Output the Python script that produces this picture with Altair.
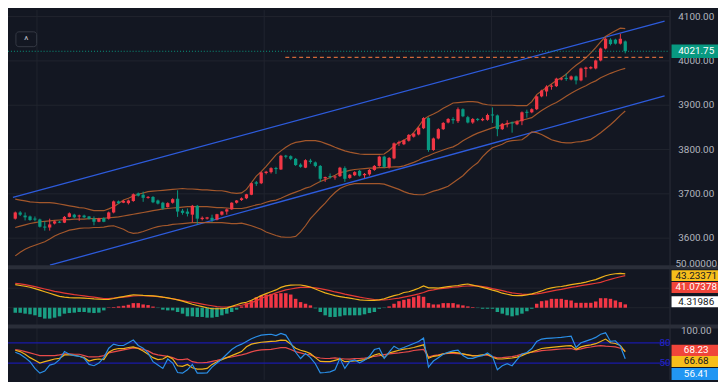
import altair as alt
import pandas as pd

# ---------------- data ----------------
opens = [3644, 3658, 3651, 3649, 3644, 3642, 3626, 3624, 3633, 3637,
         3635, 3648, 3653, 3649, 3651, 3649, 3644, 3637, 3645, 3644,
         3658, 3683, 3680, 3679, 3684, 3701, 3698, 3691, 3693, 3685,
         3680, 3670, 3680, 3689, 3662, 3660, 3653, 3673, 3643, 3644,
         3646, 3642, 3653, 3660, 3665, 3680, 3686, 3690, 3698, 3726,
         3724, 3747, 3749, 3758, 3755, 3786, 3785, 3779, 3766, 3759,
         3775, 3771, 3763, 3735, 3740, 3737, 3740, 3758, 3736, 3742,
         3752, 3742, 3744, 3754, 3763, 3784, 3760, 3780, 3814, 3812,
         3820, 3829, 3834, 3848, 3871, 3799, 3825, 3846, 3861, 3869,
         3864, 3891, 3873, 3861, 3869, 3866, 3867, 3879, 3877, 3846,
         3857, 3861, 3857, 3864, 3885, 3884, 3891, 3920, 3931, 3942,
         3943, 3958, 3961, 3958, 3965, 3956, 3982, 3983, 3983, 4001,
         4028, 4048, 4048, 4039, 4044]
highs = [3660, 3661, 3658, 3651, 3649, 3644, 3638, 3644, 3640, 3639,
         3650, 3658, 3655, 3653, 3653, 3650, 3649, 3646, 3647, 3660,
         3685, 3685, 3686, 3687, 3701, 3703, 3705, 3695, 3695, 3687,
         3682, 3681, 3690, 3708, 3666, 3667, 3675, 3675, 3649, 3648,
         3653, 3655, 3661, 3667, 3681, 3686, 3692, 3700, 3725, 3729,
         3750, 3752, 3760, 3761, 3788, 3788, 3787, 3781, 3769, 3778,
         3779, 3773, 3765, 3739, 3746, 3741, 3761, 3762, 3745, 3751,
         3754, 3747, 3756, 3765, 3786, 3786, 3783, 3816, 3820, 3823,
         3835, 3838, 3851, 3873, 3873, 3827, 3848, 3862, 3871, 3873,
         3895, 3893, 3876, 3871, 3871, 3872, 3881, 3895, 3879, 3860,
         3866, 3863, 3866, 3886, 3890, 3893, 3922, 3935, 3945, 3947,
         3962, 3963, 3972, 3967, 3967, 3985, 3987, 3988, 4003, 4030,
         4052, 4051, 4050, 4061, 4046]
lows = [3642, 3650, 3640, 3639, 3638, 3624, 3617, 3617, 3631, 3634,
        3634, 3647, 3645, 3639, 3645, 3642, 3629, 3636, 3636, 3642,
        3656, 3677, 3679, 3676, 3682, 3694, 3682, 3689, 3679, 3676,
        3664, 3669, 3678, 3648, 3653, 3649, 3636, 3631, 3640, 3642,
        3636, 3640, 3651, 3653, 3664, 3678, 3684, 3688, 3697, 3718,
        3722, 3744, 3746, 3745, 3754, 3780, 3776, 3763, 3759, 3758,
        3768, 3760, 3727, 3727, 3734, 3732, 3738, 3727, 3734, 3740,
        3739, 3736, 3741, 3752, 3761, 3758, 3757, 3778, 3808, 3810,
        3818, 3827, 3832, 3846, 3795, 3797, 3823, 3844, 3859, 3858,
        3860, 3873, 3859, 3858, 3864, 3864, 3865, 3860, 3830, 3844,
        3850, 3838, 3855, 3855, 3872, 3882, 3889, 3918, 3920, 3935,
        3941, 3956, 3955, 3956, 3947, 3954, 3963, 3981, 3981, 3999,
        4026, 4035, 4037, 4037, 4017]
closes = [3658, 3653, 3647, 3641, 3642, 3626, 3624, 3631, 3638, 3635,
          3648, 3656, 3647, 3651, 3647, 3644, 3637, 3644, 3637, 3658,
          3683, 3679, 3684, 3685, 3699, 3696, 3691, 3693, 3681, 3678,
          3667, 3679, 3688, 3660, 3657, 3655, 3673, 3644, 3646, 3647,
          3641, 3654, 3660, 3665, 3680, 3685, 3690, 3699, 3724, 3723,
          3748, 3750, 3758, 3756, 3786, 3784, 3779, 3765, 3761, 3776,
          3772, 3763, 3734, 3738, 3738, 3739, 3759, 3734, 3743, 3749,
          3741, 3745, 3754, 3763, 3784, 3761, 3781, 3814, 3817, 3821,
          3833, 3836, 3849, 3871, 3799, 3825, 3846, 3860, 3869, 3866,
          3891, 3875, 3861, 3869, 3867, 3869, 3878, 3877, 3846, 3858,
          3860, 3859, 3863, 3884, 3883, 3891, 3920, 3933, 3942, 3944,
          3960, 3961, 3960, 3965, 3956, 3983, 3985, 3986, 4001, 4028,
          4050, 4038, 4039, 4050, 4021.75]

bb_upper = [3688, 3686, 3684, 3682, 3681, 3680, 3680, 3680, 3679, 3677,
            3675, 3673, 3671, 3669, 3668, 3665, 3662, 3662, 3662, 3666,
            3671, 3678, 3686, 3690, 3695, 3699, 3702, 3705, 3706, 3707,
            3708, 3709, 3710, 3711, 3712, 3711, 3711, 3710, 3709, 3709,
            3708, 3707, 3707, 3705, 3702, 3701, 3702, 3710, 3725, 3740,
            3750, 3762, 3775, 3788, 3797, 3805, 3812, 3816, 3818, 3820,
            3820, 3820, 3818, 3814, 3810, 3805, 3801, 3797, 3794, 3792,
            3790, 3789, 3789, 3789, 3789, 3790, 3798, 3808, 3816, 3821,
            3828, 3838, 3852, 3868, 3875, 3880, 3886, 3893, 3899, 3905,
            3906, 3907, 3908, 3908, 3907, 3903, 3901, 3900, 3900, 3900,
            3900, 3900, 3899, 3899, 3899, 3908, 3924, 3932, 3940, 3948,
            3956, 3962, 3970, 3981, 3990, 3998, 4007, 4018, 4030, 4043,
            4055, 4062, 4068, 4074, 4073]
bb_mid = [3624, 3627, 3630, 3633, 3635, 3637, 3638, 3639, 3640, 3641,
          3642, 3642, 3643, 3643, 3643, 3644, 3644, 3644, 3645, 3646,
          3647, 3648, 3650, 3652, 3654, 3656, 3658, 3660, 3662, 3664,
          3666, 3667, 3668, 3669, 3670, 3671, 3671, 3671, 3671, 3671,
          3670, 3669, 3669, 3668, 3667, 3667, 3667, 3669, 3672, 3675,
          3677, 3681, 3684, 3686, 3690, 3695, 3700, 3704, 3708, 3713,
          3716, 3722, 3728, 3732, 3737, 3742, 3748, 3750, 3753, 3755,
          3756, 3757, 3758, 3758, 3759, 3759, 3760, 3761, 3761, 3763,
          3767, 3771, 3776, 3782, 3786, 3791, 3795, 3799, 3803, 3806,
          3812, 3820, 3826, 3832, 3837, 3841, 3845, 3849, 3852, 3855,
          3858, 3861, 3863, 3866, 3869, 3872, 3880, 3888, 3895, 3901,
          3906, 3913, 3920, 3927, 3933, 3939, 3944, 3950, 3955, 3962,
          3967, 3972, 3976, 3980, 3983]
bb_lower = [3560, 3568, 3575, 3580, 3584, 3588, 3592, 3598, 3605, 3610,
            3614, 3618, 3620, 3622, 3623, 3623, 3624, 3624, 3625, 3627,
            3628, 3624, 3620, 3614, 3611, 3612, 3615, 3619, 3623, 3626,
            3628, 3629, 3631, 3632, 3633, 3634, 3635, 3635, 3635, 3635,
            3635, 3635, 3635, 3634, 3633, 3633, 3634, 3631, 3628, 3624,
            3620, 3614, 3610, 3606, 3603, 3602, 3602, 3604, 3614, 3628,
            3644, 3656, 3668, 3679, 3692, 3703, 3712, 3717, 3721, 3723,
            3723, 3723, 3723, 3723, 3723, 3722, 3718, 3714, 3710, 3705,
            3701, 3699, 3698, 3698, 3702, 3706, 3709, 3713, 3717, 3725,
            3733, 3741, 3752, 3762, 3770, 3784, 3795, 3804, 3808, 3812,
            3818, 3820, 3821, 3822, 3830, 3840, 3838, 3834, 3828, 3822,
            3819, 3816, 3815, 3815, 3817, 3818, 3820, 3823, 3830, 3838,
            3847, 3856, 3866, 3877, 3887]

macd_dif = [29.5, 28.5, 27.5, 26.2, 24.5, 22.5, 20.5, 18.5, 16.5, 14.5,
            13.5, 13, 12.7, 12.5, 12.2, 11.8, 11.3, 11, 10.5, 10.8,
            11.8, 13.2, 14.3, 15.5, 16.5, 16.3, 15.8, 15.6, 15.2, 14.5,
            13.5, 12.7, 11.5, 10, 8.4, 6.5, 4.5, 2.9, 1.5, 0,
            -1.3, -1.3, -1.3, -0.5, 1.7, 3.8, 5.9, 7, 9.5, 12.5,
            15.5, 18, 20.5, 22.8, 26, 28, 29, 29.1, 29.1, 28,
            26.5, 24, 21.5, 19, 17.2, 15.5, 14.3, 13.2, 12.3, 11.2,
            10.1, 9.6, 9.3, 9.5, 10.1, 11.5, 13.5, 15.5, 16.9, 19.5,
            20.5, 22.5, 25, 28, 25.5, 25.3, 25, 26, 27, 27.8,
            28.5, 29.5, 30.4, 29, 27.5, 26, 24.5, 22.5, 21, 18.6,
            17.2, 15.8, 15.6, 15.6, 16.5, 17.8, 19.5, 21.5, 24, 25.5,
            26.5, 27.2, 28.2, 29.5, 30.5, 31.5, 32.8, 34.5, 36, 38.5,
            41, 42.5, 43.5, 43.9, 43.23371]
macd_dea = [31.2, 30.5, 29.5, 28.2, 27, 25.5, 24, 22.5, 21, 19.9,
            18.8, 17.8, 16.8, 16, 15.2, 14.3, 13.5, 12.7, 11.8, 11.8,
            12.5, 13, 13.5, 14.3, 15, 15.6, 15.6, 15.2, 14.8, 14.3,
            13.5, 12.5, 11.4, 10.3, 9.2, 8, 7, 5.8, 4.6, 3.5,
            2.5, 1.5, 0.9, 0.9, 1.3, 2.2, 3.2, 4.5, 6.5, 8.8,
            12, 14.5, 16.5, 19, 21, 22.8, 24, 25.2, 26, 26.2,
            26, 25.5, 24.5, 23.2, 21.8, 20.2, 19, 17.5, 16.2, 14.8,
            13.5, 12.5, 11.5, 10.5, 10.1, 10.1, 10.5, 11.5, 12.3, 13.5,
            14.8, 16.2, 17.7, 19.5, 21.9, 22.8, 24, 24.8, 25.5, 26.2,
            26.8, 27.5, 27.8, 28.2, 28, 27, 26, 24.5, 23.2, 21.8,
            20.3, 19, 18.2, 17.5, 17, 17.2, 17.8, 18.8, 20, 21.3,
            22.5, 23.5, 24.8, 26, 27, 28.2, 29.2, 30.2, 31.3, 32.5,
            34.5, 36.3, 38, 39.6, 41.07378]
macd_hist = [-6.3, -6.5, -7.6, -8.4, -9.7, -11.8, -13.9, -13.9, -12.7, -11,
             -7.6, -6.8, -6.3, -5.5, -5.5, -6.3, -6.8, -6.3, -3.4, 0.4,
             0.8, 1.7, 2.5, 3.8, 5.9, 5.9, 4.2, 3.4, 1.5, -0.4,
             -2.5, -3.4, -3.4, -5.5, -7.6, -11, -11, -11.8, -11.8, -12.7,
             -12.7, -11.8, -9.7, -7.6, -5.5, -2.5, 1.7, 5.9, 9.3, 13.5,
             15.6, 16.9, 17.7, 17.7, 18.6, 18.6, 16.9, 11.4, 7.2, 5.1,
             3, -0.8, -5.5, -9.7, -11.8, -11.8, -11, -9.7, -9.7, -9.7,
             -9.7, -8.4, -6.8, -5.5, -1.3, -0.4, 1.7, 5.1, 8.4, 10.1,
             11.4, 13.5, 15.6, 14, 6, 4.2, 4.2, 5.9, 5.9, 5.9,
             4.2, 3, 1.7, 0.8, -0.4, -1.3, -1.3, -1.3, -5.5, -7.6,
             -9.7, -11, -9.7, -7.6, -4.5, -1.3, 5.1, 8.4, 9.3, 11.4,
             11.4, 11.4, 10.1, 9.3, 6.3, 6.3, 6.3, 6.3, 8, 12.2,
             12.2, 11.4, 9.3, 7.2, 4.31986]

osc_blue = [66, 63, 58, 52, 42, 35, 38, 47, 49, 55,
            67, 63, 61, 60, 57, 48, 46, 50, 58, 72,
            78, 76, 76, 80, 84, 76, 72, 65, 52, 47,
            42, 56, 50, 36, 35, 40, 48, 35, 35, 35.5,
            44, 50, 56, 63, 70, 75, 78, 82, 86, 89,
            91.4, 92, 92.7, 90.6, 94, 91.4, 80, 66, 56.7, 64,
            58, 49, 35.5, 36, 37, 40, 57, 42, 52.5, 54.6,
            50.4, 54, 60, 70, 72, 57, 66, 75, 70.5, 73,
            76, 79, 82, 87, 44, 53, 58, 63, 66, 68,
            69, 61, 57, 57, 59.5, 61, 65, 60, 40, 46,
            49, 46, 55, 63.5, 65.5, 71.5, 82, 85.5, 86.5, 87,
            87.5, 88, 89, 89.7, 73, 80, 82.5, 85, 88, 92.7,
            94.8, 82, 83, 75, 56.41]
osc_yellow = [69, 67, 63, 58, 54, 50, 52, 54, 56, 57,
              62, 62, 61.5, 60, 58, 53, 55, 56, 55, 66,
              70, 71.5, 71.5, 73, 74, 71.5, 68, 63, 58, 55,
              56, 60, 56, 46, 45, 48, 43, 41, 41, 42,
              48, 52, 55, 58, 61, 64, 67, 74, 78, 79.5,
              80.8, 81.5, 82, 82.5, 84, 83.5, 78, 72, 69, 67,
              64, 58, 52.5, 52, 52, 54, 56, 52, 52.5, 53,
              54, 55, 58, 62, 64, 58, 65, 67, 69, 70.5,
              71.5, 73, 75, 77, 57, 60, 61, 63.5, 65, 66,
              65, 63.5, 62, 60.5, 61, 62, 63, 58.5, 56, 56,
              56.7, 57.5, 58.8, 61, 64.3, 66.5, 69, 71.5, 72.5, 73.3,
              74, 74.8, 75.5, 75.8, 70.3, 74, 75.8, 77, 78.7, 82,
              85.5, 80, 79, 76, 66.68]
osc_red = [70, 69, 67, 65, 63, 61, 61, 61, 61, 62,
           63.5, 63.5, 63, 63, 61, 59, 59, 59.5, 61, 65,
           66.5, 68, 69.4, 71, 72.5, 72, 70, 68, 64, 62,
           61, 60, 58, 55, 55, 56, 52, 50.5, 50.4, 51,
           52.5, 54, 56, 58, 59, 60.5, 62, 64, 66.5, 68.5,
           69.5, 70, 70.3, 71.5, 72.8, 72.8, 70, 67, 65, 63,
           62, 59, 57.5, 56.7, 57, 57.6, 56.7, 56, 55.9, 56.5,
           56.7, 57.2, 58, 60, 61, 62.5, 63.5, 64.3, 65, 66,
           67, 68.6, 69.5, 70.3, 59, 61, 62, 63.5, 64.3, 64.3,
           64, 63.1, 62, 61, 61, 61.5, 61.8, 59.5, 57.6, 58,
           58.8, 59.5, 61, 63.1, 64.5, 66, 67, 68.3, 69, 69.6,
           70.3, 70.8, 71.2, 71.5, 69.4, 71, 72.8, 73.8, 75, 75.8,
           75, 74.5, 74, 72, 68.23]

price_ticks = [3600, 3700, 3800, 3900, 4000, 4100]
macd_grid = [0, 25]
macd_top_label = [50]
osc_levels = [80, 50]
time_grid = [4.42, 50.6, 96.8]
channel_up_x = [-0.47, 132.0]
channel_up = [3692, 4090]
channel_lo_x = [7.05, 132.0]
channel_lo = [3539, 3921]
last_price = 4021.75
level_line_price = 4008
level_line_x = [54.9, 132.0]

N = len(closes)
for arr in (opens, highs, lows, bb_upper, bb_mid, bb_lower, macd_dif, macd_dea,
            macd_hist, osc_blue, osc_yellow, osc_red):
    assert len(arr) == N, len(arr)
idx = list(range(N))

# ---------------- style ----------------
BG = "#131722"
GRID = "#20242f"
SEP = "#2a2e39"
UP = "#f23645"
DOWN = "#089981"
BBC = "#b35e2c"
CHC = "#2d5bdc"
TXT = "#b2b5be"
FONT = "Roboto"

W, H = 718, 374
PW = 669
XS = alt.Scale(domain=[-0.47, 132.0], range=[0, PW], nice=False, zero=False)
YM = alt.Scale(domain=[3538.96, 4114.7], range=[258, 0], nice=False, zero=False)
YD = alt.Scale(domain=[-21.52, 49.37], range=[318, 262], nice=False, zero=False)
YS = alt.Scale(domain=[24.98, 101.2], range=[374, 322], nice=False, zero=False)


def X(f="i"):
    return alt.X(f"{f}:Q", scale=XS, axis=None)


def Y(f, sc):
    return alt.Y(f"{f}:Q", scale=sc, axis=None)


one = pd.DataFrame({"a": [1]})
layers = []

# grid
layers.append(alt.Chart(pd.DataFrame({"t": time_grid})).mark_rule(color=GRID, strokeWidth=1)
              .encode(x=X("t"), y=alt.value(0), y2=alt.value(H)))
layers.append(alt.Chart(pd.DataFrame({"p": price_ticks})).mark_rule(color=GRID, strokeWidth=1)
              .encode(y=Y("p", YM), x=alt.value(0), x2=alt.value(PW)))
layers.append(alt.Chart(pd.DataFrame({"p": macd_grid})).mark_rule(color=GRID, strokeWidth=1)
              .encode(y=Y("p", YD), x=alt.value(0), x2=alt.value(PW)))

# regression channel
layers.append(alt.Chart(pd.DataFrame({"i": channel_up_x, "p": channel_up})).mark_line(color=CHC, strokeWidth=1.3)
              .encode(x=X(), y=Y("p", YM)))
layers.append(alt.Chart(pd.DataFrame({"i": channel_lo_x, "p": channel_lo})).mark_line(color=CHC, strokeWidth=1.3)
              .encode(x=X(), y=Y("p", YM)))

# Bollinger bands
bb = pd.DataFrame({"i": idx, "u": bb_upper, "m": bb_mid, "l": bb_lower})
for f in ("u", "m", "l"):
    layers.append(alt.Chart(bb).mark_line(color=BBC, strokeWidth=1.2, opacity=0.9)
                  .encode(x=X(), y=Y(f, YM)))

# price lines
layers.append(alt.Chart(pd.DataFrame({"p": [last_price]})).mark_rule(color=DOWN, strokeWidth=1, strokeDash=[1, 2])
              .encode(y=Y("p", YM), x=alt.value(0), x2=alt.value(PW)))
layers.append(alt.Chart(pd.DataFrame({"s": [level_line_x[0]], "e": [level_line_x[1]], "p": [level_line_price]}))
              .mark_rule(color="#d0683a", strokeWidth=1.3, strokeDash=[4, 3])
              .encode(x=X("s"), x2=alt.X2("e"), y=Y("p", YM)))

# candles
cdf = pd.DataFrame({"i": idx, "o": opens, "h": highs, "l": lows, "c": closes})
cdf["col"] = [UP if c >= o else DOWN for o, c in zip(opens, closes)]
tops, bots = [], []
for o, c in zip(opens, closes):
    t, b = max(o, c), min(o, c)
    if t - b < 2.4:
        mid = (t + b) / 2
        t, b = mid + 1.2, mid - 1.2
    tops.append(t)
    bots.append(b)
cdf["t"] = tops
cdf["b"] = bots
layers.append(alt.Chart(cdf).mark_rule(strokeWidth=1)
              .encode(x=X(), y=Y("l", YM), y2=alt.Y2("h"), color=alt.Color("col:N", scale=None)))
layers.append(alt.Chart(cdf).mark_bar(size=3.3)
              .encode(x=X(), y=Y("b", YM), y2=alt.Y2("t"), color=alt.Color("col:N", scale=None)))

# MACD
mdf = pd.DataFrame({"i": idx, "d": macd_dif, "e": macd_dea, "h": macd_hist})
mdf["z"] = 0.0
mdf["col"] = [UP if v >= 0 else "#1a9f84" for v in macd_hist]
layers.append(alt.Chart(mdf).mark_bar(size=3.5)
              .encode(x=X(), y=Y("z", YD), y2=alt.Y2("h"), color=alt.Color("col:N", scale=None)))
layers.append(alt.Chart(mdf).mark_line(color="#e53935", strokeWidth=1.2).encode(x=X(), y=Y("e", YD)))
layers.append(alt.Chart(mdf).mark_line(color="#f0b21a", strokeWidth=1.2).encode(x=X(), y=Y("d", YD)))

# oscillator
layers.append(alt.Chart(pd.DataFrame({"p": osc_levels})).mark_rule(color="#1a1aa8", strokeWidth=1.2)
              .encode(y=Y("p", YS), x=alt.value(0), x2=alt.value(PW)))
odf = pd.DataFrame({"i": idx, "b": osc_blue, "y": osc_yellow, "r": osc_red})
layers.append(alt.Chart(odf).mark_line(color="#e84a4a", strokeWidth=1.2).encode(x=X(), y=Y("r", YS)))
layers.append(alt.Chart(odf).mark_line(color="#f0b21a", strokeWidth=1.2).encode(x=X(), y=Y("y", YS)))
layers.append(alt.Chart(odf).mark_line(color="#2a8fe8", strokeWidth=1.2).encode(x=X(), y=Y("b", YS)))

# separators and price-scale border
for a, b in ((258, 262), (318, 322)):
    layers.append(alt.Chart(one).mark_rect(color=SEP)
                  .encode(x=alt.value(0), x2=alt.value(W), y=alt.value(a), y2=alt.value(b)))
layers.append(alt.Chart(one).mark_rule(color=SEP, strokeWidth=1)
              .encode(x=alt.value(PW + 0.5), y=alt.value(0), y2=alt.value(H)))

# right scale labels
lab = dict(font=FONT, fontSize=10, align="center", baseline="middle")
layers.append(alt.Chart(pd.DataFrame({"p": price_ticks, "t": [f"{p:.2f}" for p in price_ticks]}))
              .mark_text(color=TXT, **lab).encode(x=alt.value(696), y=Y("p", YM), text="t:N"))
# MACD top scale label, partly hidden behind the value tags
layers.append(alt.Chart(pd.DataFrame({"p": macd_top_label, "t": [f"{p:.5f}" for p in macd_top_label]}))
              .mark_text(color=TXT, dy=-5, **lab).encode(x=alt.value(696), y=Y("p", YD), text="t:N"))
layers.append(alt.Chart(pd.DataFrame({"p": [100], "t": ["100.00"]}))
              .mark_text(color=TXT, dy=2, **lab).encode(x=alt.value(696), y=Y("p", YS), text="t:N"))
layers.append(alt.Chart(pd.DataFrame({"p": osc_levels, "t": [str(v) for v in osc_levels]}))
              .mark_text(color="#2525c8", font=FONT, fontSize=10, align="right", baseline="middle")
              .encode(x=alt.value(PW + 1), y=Y("p", YS), text="t:N"))

# last price tag
half = 15.2
layers.append(alt.Chart(pd.DataFrame({"a": [last_price + half], "b": [last_price - half]}))
              .mark_rect(color=DOWN).encode(x=alt.value(671), x2=alt.value(W), y=Y("a", YM), y2=alt.Y2("b")))
layers.append(alt.Chart(pd.DataFrame({"p": [last_price], "t": [f"{last_price:.2f}"]}))
              .mark_text(color="#ffffff", **lab).encode(x=alt.value(696), y=Y("p", YM), text="t:N"))

# indicator value tags (stacked, as the price scale does)
tags = [
    (263, 274, "#f7be1b", "#131722", f"{macd_dif[-1]:.5f}"),
    (275, 286, "#f0453a", "#ffffff", f"{macd_dea[-1]:.5f}"),
    (289.5, 300.5, "#ffffff", "#131722", f"{macd_hist[-1]:.5f}"),
    (338.5, 349.7, "#f0453a", "#ffffff", f"{osc_red[-1]:.2f}"),
    (349.7, 361.0, "#f7be1b", "#131722", f"{osc_yellow[-1]:.2f}"),
    (361.9, 374.0, "#2196f3", "#ffffff", f"{osc_blue[-1]:.2f}"),
]
for y0, y1, fill, tc, txt in tags:
    layers.append(alt.Chart(one).mark_rect(color=fill)
                  .encode(x=alt.value(671), x2=alt.value(W), y=alt.value(y0), y2=alt.value(y1)))
    layers.append(alt.Chart(pd.DataFrame({"t": [txt]})).mark_text(color=tc, **lab)
                  .encode(x=alt.value(696), y=alt.value((y0 + y1) / 2), text="t:N"))

# collapse button at top-left
layers.append(alt.Chart(one).mark_rect(fill=BG, stroke="#363a45", strokeWidth=1, cornerRadius=3)
              .encode(x=alt.value(8), x2=alt.value(29), y=alt.value(22), y2=alt.value(37)))
layers.append(alt.Chart(pd.DataFrame({"t": ["^"]})).mark_text(color=TXT, font=FONT, fontSize=11,
                                                               align="center", baseline="middle", dy=2)
              .encode(x=alt.value(18.5), y=alt.value(29.5), text="t:N"))

chart = (alt.layer(*layers)
         .resolve_scale(y="independent")
         .properties(width=W, height=H, padding=0, background=BG,
                     autosize=alt.AutoSizeParams(type="none"))
         .configure_view(strokeWidth=0))

chart.save("out.html", embed_options={"renderer": "svg", "actions": False})
